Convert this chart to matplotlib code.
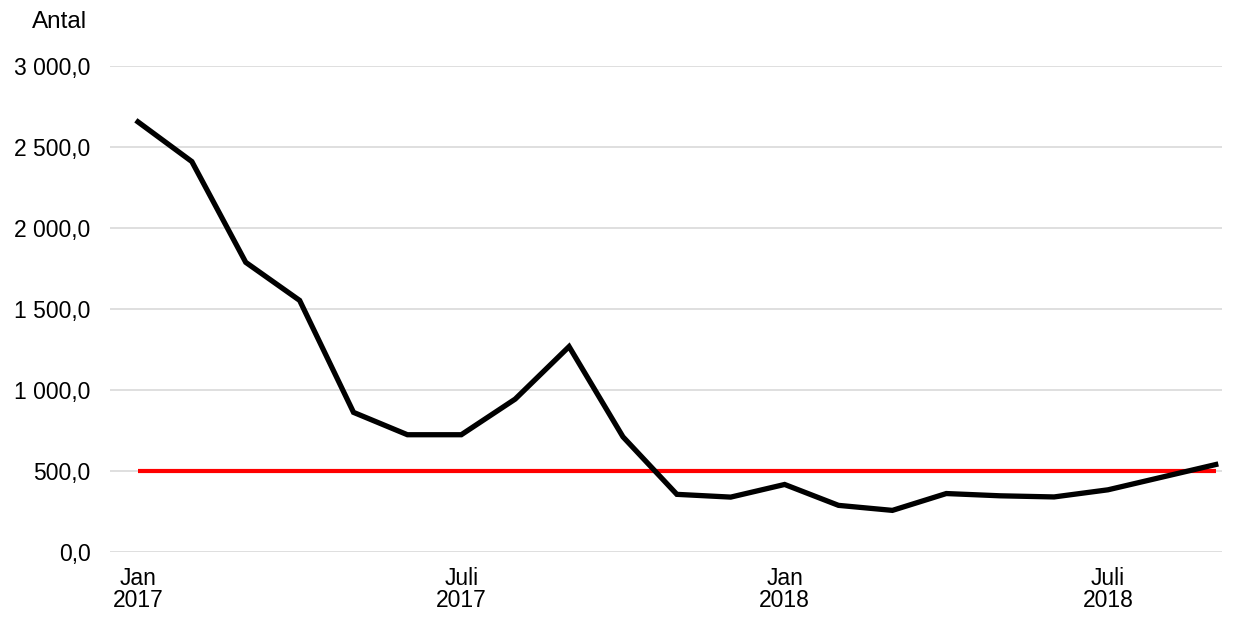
import matplotlib.pyplot as plt

plt.rcParams['font.family'] = ['Liberation Sans', 'DejaVu Sans']

# monthly values Jan 2017 - Sep 2018
months = ['Jan 2017', 'Feb 2017', 'Mar 2017', 'Apr 2017', 'Maj 2017', 'Jun 2017',
          'Juli 2017', 'Aug 2017', 'Sep 2017', 'Okt 2017', 'Nov 2017', 'Dec 2017',
          'Jan 2018', 'Feb 2018', 'Mar 2018', 'Apr 2018', 'Maj 2018', 'Jun 2018',
          'Juli 2018', 'Aug 2018', 'Sep 2018']
antal = [2655, 2410, 1788, 1553, 862, 724, 724, 944, 1268, 711, 356, 339,
         417, 288, 257, 361, 347, 340, 384, 462, 540]
target = [500] * len(months)

tick_idx = [0, 6, 12, 18]
tick_labels = ['Jan\n2017', 'Juli\n2017', 'Jan\n2018', 'Juli\n2018']

fig = plt.figure(figsize=(12.34, 6.19), dpi=100)
ax = fig.add_axes([0.0891, 0.1082, 0.9009, 0.7852])

x = list(range(len(months)))
ax.plot(x, target, color='#ff0000', lw=3.0, solid_capstyle='butt', zorder=3)
ax.plot(x, antal, color='black', lw=3.8, solid_joinstyle='miter', zorder=4)

ax.set_ylim(0, 3000)
ax.set_xlim(-0.52, 20.11)
ax.set_yticks(range(0, 3001, 500))
ax.set_yticklabels([f'{v:,.1f}'.replace(',', ' ').replace('.', ',') for v in range(0, 3001, 500)])
ax.set_xticks(tick_idx)
ax.set_xticklabels(tick_labels, linespacing=0.95)
ax.tick_params(axis='both', length=0, labelsize=16.5, colors='black')
ax.tick_params(axis='y', pad=14)
ax.tick_params(axis='x', pad=11)
ax.grid(axis='y', color='#d9d9d9', lw=1.2)
ax.set_axisbelow(True)
for s in ax.spines.values():
    s.set_visible(False)

fig.text(0.026, 0.964, 'Antal', fontsize=17.5, va='center', ha='left')

fig.savefig('out.png', dpi=100)
